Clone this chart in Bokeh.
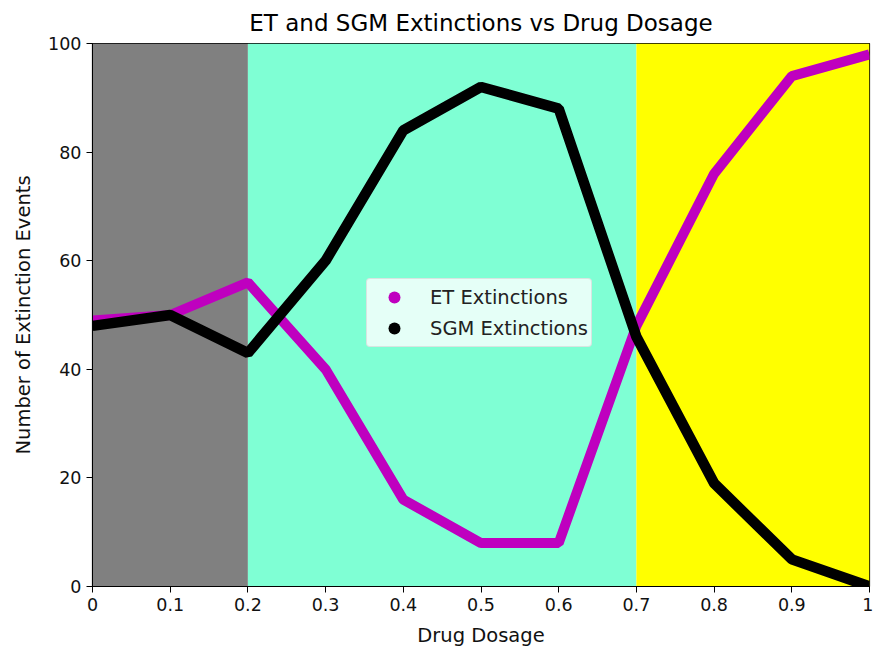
from bokeh.plotting import figure
from bokeh.models import ColumnDataSource, Legend, LegendItem, FixedTicker, Range1d
from bokeh.embed import file_html
from bokeh.resources import INLINE

dosage = [0.0, 0.1, 0.2, 0.3, 0.4, 0.5, 0.6, 0.7, 0.8, 0.9, 1.0]
et_ext = [49, 50, 56, 40, 16, 8, 8, 48, 76, 94, 98]
sgm_ext = [48, 50, 43, 60, 84, 92, 88, 46, 19, 5, 0]

region_left = [0.0, 0.2, 0.7]
region_right = [0.2, 0.7, 1.0]
region_colors = ["#808080", "#7fffd4", "#ffff00"]

x_ticks = [0, 0.1, 0.2, 0.3, 0.4, 0.5, 0.6, 0.7, 0.8, 0.9, 1]
x_tick_labels = ["0", "0.1", "0.2", "0.3", "0.4", "0.5", "0.6", "0.7", "0.8", "0.9", "1"]
y_ticks = [0, 20, 40, 60, 80, 100]

FONT = "DejaVu Sans"

p = figure(width=873, height=650, output_backend="svg", toolbar_location=None,
           x_range=Range1d(0, 1), y_range=Range1d(0, 100),
           min_border_left=92, min_border_right=4, min_border_top=43, min_border_bottom=64,
           title="ET and SGM Extinctions vs Drug Dosage")
p.title.align = "center"
p.title.text_font = FONT
p.title.text_font_size = "23px"
p.title.text_font_style = "normal"
p.title.text_color = "#000000"
p.title.standoff = 15

p.quad(left=region_left, right=region_right, bottom=0, top=100,
       fill_color=region_colors, line_color=None)

src = ColumnDataSource(dict(x=dosage, et=et_ext, sgm=sgm_ext))
p.line("x", "et", source=src, line_color="#bf00bf", line_width=10)
p.line("x", "sgm", source=src, line_color="#000000", line_width=10.5)

r_et = p.scatter("x", "et", source=src, marker="circle", size=0,
                 fill_color="#bf00bf", line_color=None)
r_sgm = p.scatter("x", "sgm", source=src, marker="circle", size=0,
                  fill_color="#000000", line_color=None)

legend = Legend(items=[LegendItem(label="ET Extinctions", renderers=[r_et]),
                       LegendItem(label="SGM Extinctions", renderers=[r_sgm])],
                location=(274, 239))
legend.label_text_font = FONT
legend.label_text_font_size = "19.5px"
legend.label_text_color = "#222222"
legend.label_height = 30
legend.background_fill_color = "#ffffff"
legend.background_fill_alpha = 0.8
legend.border_line_color = "#cccccc"
legend.border_line_width = 1
legend.glyph_width = 48
legend.glyph_height = 30
legend.label_standoff = 12
legend.spacing = 1
legend.padding = 3
legend.margin = 0
if "border_radius" in Legend.properties():
    legend.border_radius = 4
p.add_layout(legend, "center")

p.xgrid.visible = False
p.ygrid.visible = False
p.outline_line_color = "#000000"
p.outline_line_width = 1.2

for ax in (p.xaxis[0], p.yaxis[0]):
    ax.axis_line_color = "#000000"
    ax.major_tick_line_color = "#000000"
    ax.major_tick_out = 6
    ax.major_tick_in = 0
    ax.minor_tick_out = 0
    ax.minor_tick_in = 0
    ax.major_label_text_font = FONT
    ax.major_label_text_font_size = "17.5px"
    ax.major_label_text_color = "#111111"
    ax.axis_label_text_font = FONT
    ax.axis_label_text_font_size = "19.5px"
    ax.axis_label_text_font_style = "normal"
    ax.axis_label_text_color = "#111111"

p.xaxis.ticker = FixedTicker(ticks=x_ticks)
p.xaxis.major_label_overrides = {t: l for t, l in zip(x_ticks, x_tick_labels)}
p.yaxis.ticker = FixedTicker(ticks=y_ticks)
p.xaxis.axis_label = "Drug Dosage"
p.yaxis.axis_label = "Number of Extinction Events"
p.xaxis.axis_label_standoff = 10
p.yaxis.axis_label_standoff = 10

open("out.html", "w").write(file_html(p, INLINE))
